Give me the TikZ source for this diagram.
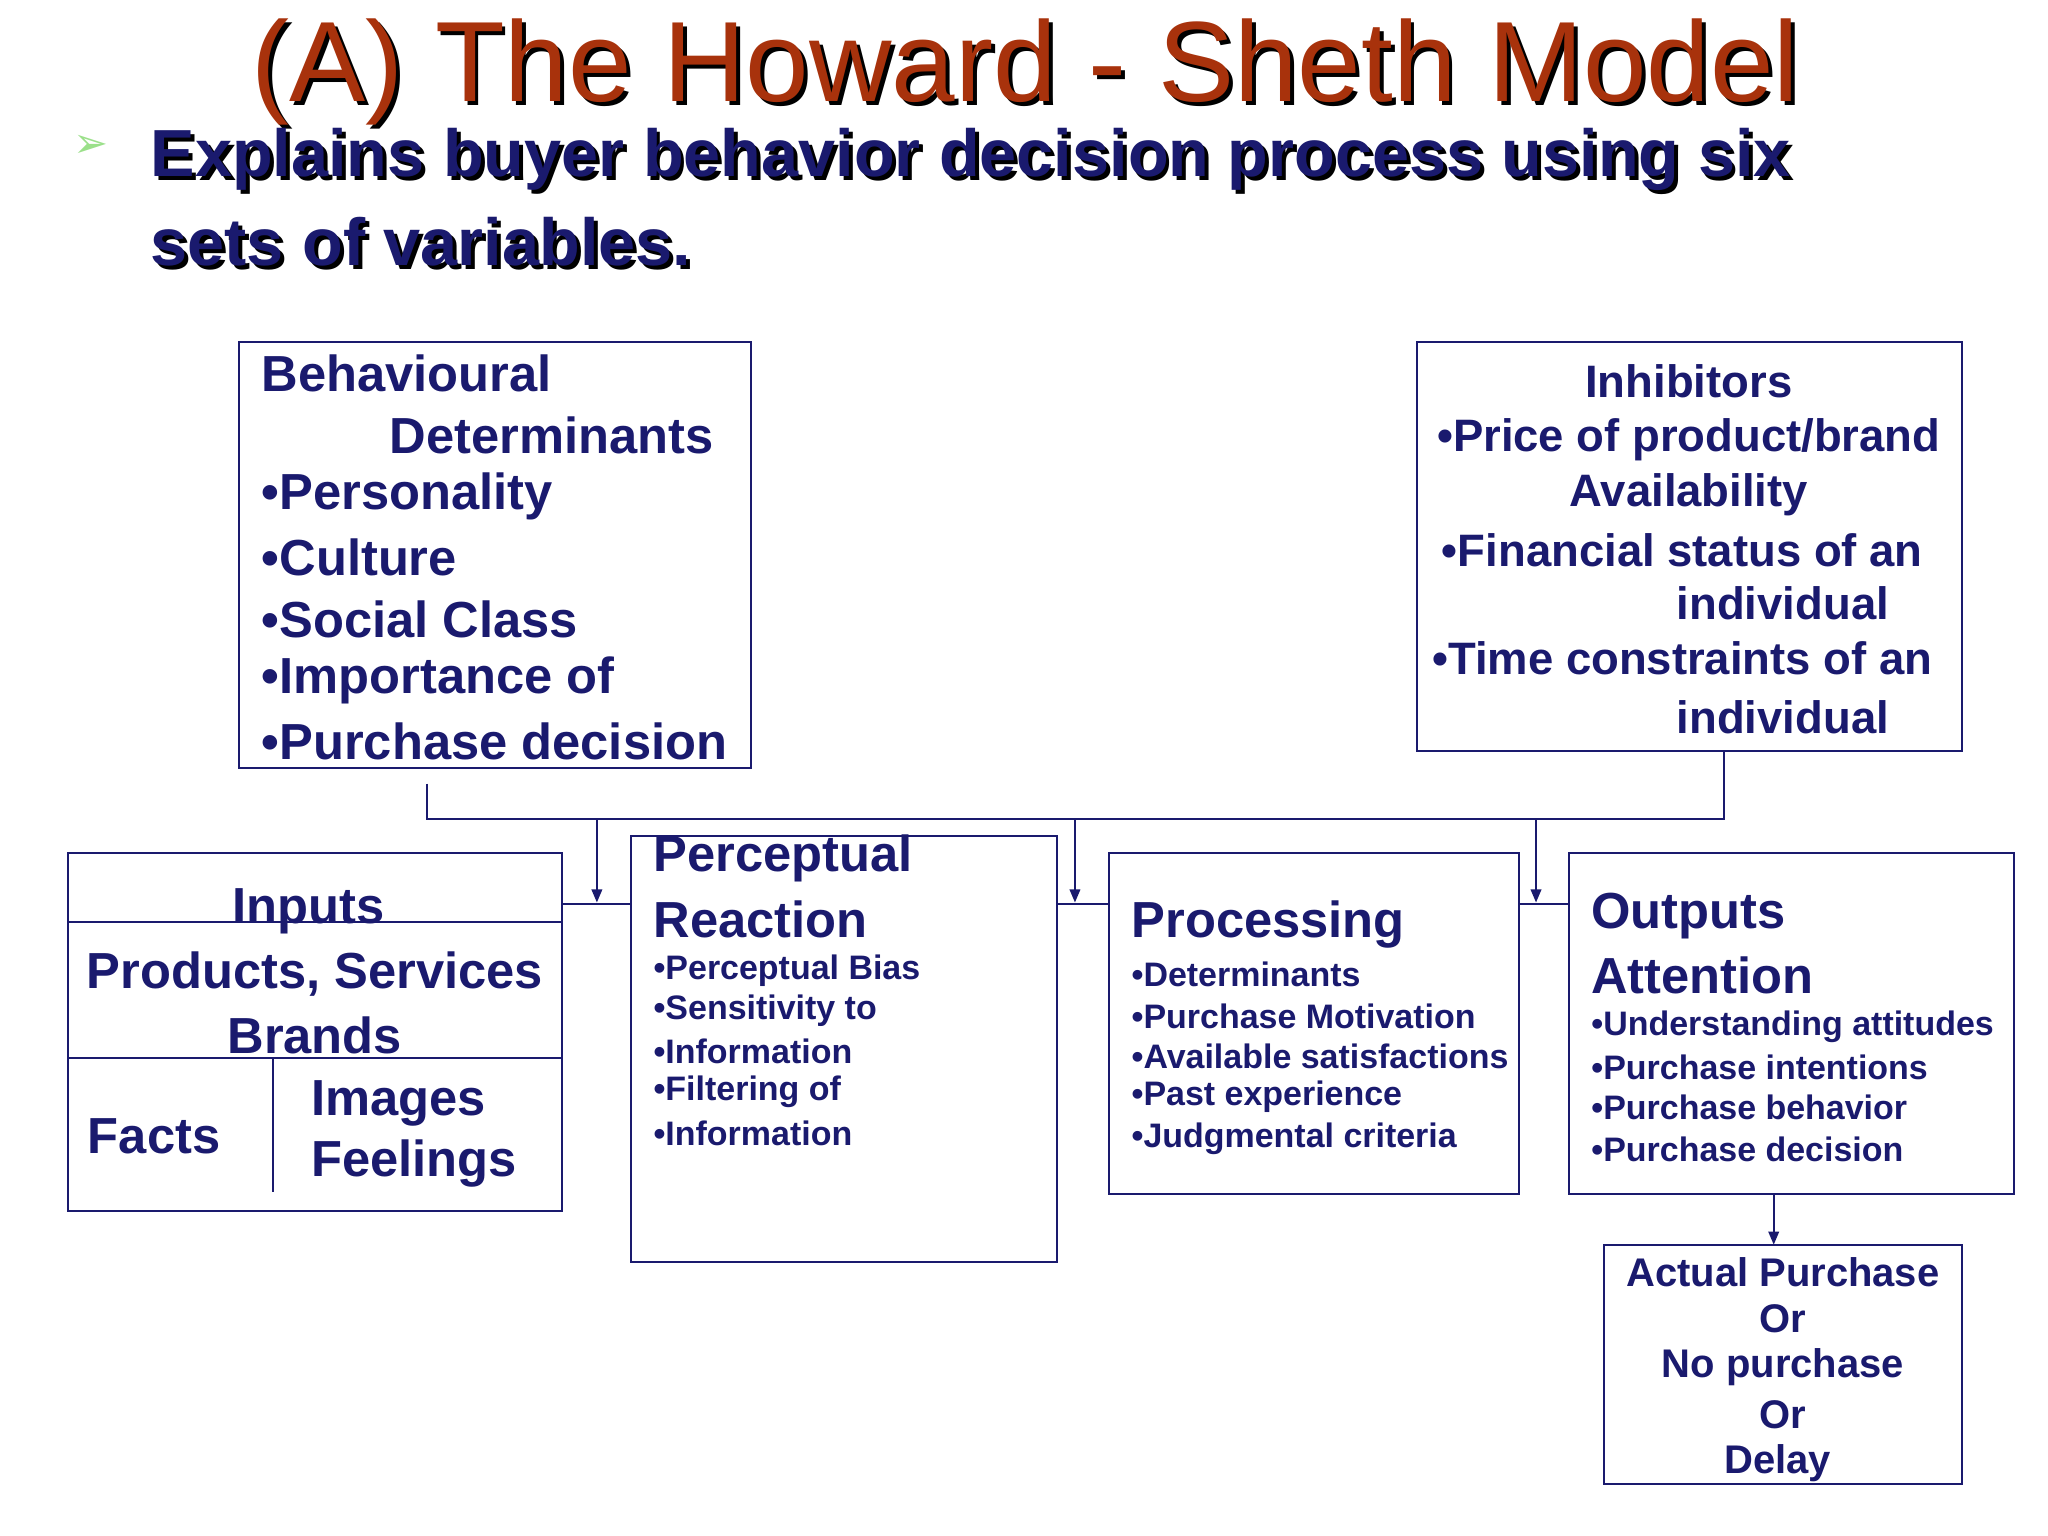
\documentclass[tikz,border=0pt]{standalone}
\usepackage{fontspec}
\setmainfont{Liberation Sans}
\newfontfamily\djv{DejaVu Sans}
\usetikzlibrary{arrows.meta}
\definecolor{navy}{HTML}{1A1A6E}
\definecolor{tred}{HTML}{A8320C}
\definecolor{bgreen}{HTML}{9BE08A}
\begin{document}
\begin{tikzpicture}[x=0.5pt,y=-0.5pt,
  box/.style={draw=navy,line width=0.8pt},
  ln/.style={draw=navy,line width=0.8pt},
  arr/.style={ln,-{Triangle[length=5pt,width=4pt]}},
  big/.style={text=navy,font=\fontsize{19.4}{22}\selectfont\bfseries,inner sep=0pt},
  inh/.style={text=navy,font=\fontsize{17.4}{20}\selectfont\bfseries,inner sep=0pt},
  small/.style={text=navy,font=\fontsize{13}{15}\selectfont\bfseries,inner sep=0pt},
  act/.style={text=navy,font=\fontsize{15.3}{17}\selectfont\bfseries,inner sep=0pt}]
\useasboundingbox (0,0) rectangle (1568,1176);
\fill[white] (0,0) rectangle (1568,1176);
% title
\node[inner sep=0pt,text=black,font=\fontsize{43.7}{46}\selectfont] (tsh) at (788,58) {(A) The Howard - Sheth Model};
\node[inner sep=0pt,text=tred,font=\fontsize{43.7}{46}\selectfont] (title) at (785,55) {(A) The Howard - Sheth Model};
\node[inner sep=0pt,text=bgreen,font=\fontsize{16}{16}\selectfont\djv] (bul) at (70,112) {➢};
\node[anchor=west,inner sep=0pt,text=black,font=\fontsize{25.5}{28}\selectfont\bfseries] (s1) at (118,125) {Explains buyer behavior decision process using six};
\node[anchor=west,inner sep=0pt,text=navy,font=\fontsize{25.5}{28}\selectfont\bfseries] (e1) at (115,122) {Explains buyer behavior decision process using six};
\node[anchor=west,inner sep=0pt,text=black,font=\fontsize{25.5}{28}\selectfont\bfseries] (s2) at (118,188) {sets of variables.};
\node[anchor=west,inner sep=0pt,text=navy,font=\fontsize{25.5}{28}\selectfont\bfseries] (e2) at (115,185) {sets of variables.};
% behavioural
\draw[box] (183,262) rectangle (575,588);
\node[big,anchor=west] (b1) at (200,286) {Behavioural};
\node[big,anchor=west] (b2) at (298,333) {Determinants};
\node[big,anchor=west] (b3) at (200,380) {•Personality};
\node[big,anchor=west] (b4) at (200,427) {•Culture};
\node[big,anchor=west] (b5) at (200,474) {•Social Class};
\node[big,anchor=west] (b6) at (200,521) {•Importance of};
\node[big,anchor=west] (b7) at (200,568) {•Purchase decision};
% inhibitors
\draw[box] (1085,262) rectangle (1502,575);
\node[inh] (i1) at (1293,292) {Inhibitors};
\node[inh] (i2) at (1293,337) {•Price of product/brand};
\node[inh] (i3) at (1293,379) {Availability};
\node[inh] (i4) at (1288,421) {•Financial status of an};
\node[inh] (i5) at (1365,462) {individual};
\node[inh] (i6) at (1288,504) {•Time constraints of an};
\node[inh] (i7) at (1365,549) {individual};
% connectors
\coordinate (c0) at (327,600); \coordinate (c1) at (327,627);
\coordinate (c2) at (1320,627); \coordinate (c3) at (1320,575);
\draw[ln] (c0) -- (c1) -- (c2) -- (c3);
\coordinate (a1) at (457,627); \coordinate (a1e) at (457,691);
\coordinate (a2) at (823,627); \coordinate (a2e) at (823,691);
\coordinate (a3) at (1176,627); \coordinate (a3e) at (1176,691);
\draw[arr] (a1) -- (a1e); \draw[arr] (a2) -- (a2e); \draw[arr] (a3) -- (a3e);
% inputs
\draw[box] (52,653) rectangle (430,927);
\draw[ln] (52,706) -- (430,706); \draw[ln] (52,810) -- (430,810);
\draw[ln] (209,810) -- (209,913);
\node[big] (n1) at (236,698) {Inputs};
\node[big] (n2) at (241,746) {Products, Services};
\node[big] (n3) at (241,793) {Brands};
\node[big] (n4) at (118,870) {Facts};
\node[big,anchor=west] (n5) at (238,845) {Images};
\node[big,anchor=west] (n6) at (238,891) {Feelings};
% links
\draw[ln] (430,692) -- (483,692);
\draw[ln] (809,692) -- (849,692);
\draw[ln] (1163,692) -- (1201,692);
% perceptual
\draw[box] (483,640) rectangle (809,966);
\node[big,anchor=west] (p1) at (500,657) {Perceptual};
\node[big,anchor=west] (p2) at (500,704) {Reaction};
\node[small,anchor=west] (p3) at (500,743) {•Perceptual Bias};
\node[small,anchor=west] (p4) at (500,774) {•Sensitivity to};
\node[small,anchor=west] (p5) at (500,805) {•Information};
\node[small,anchor=west] (p6) at (500,836) {•Filtering of};
\node[small,anchor=west] (p7) at (500,868) {•Information};
% processing
\draw[box] (849,653) rectangle (1163,914);
\node[big,anchor=west] (q1) at (866,708) {Processing};
\node[small,anchor=west] (q2) at (866,746) {•Determinants};
\node[small,anchor=west] (q3) at (866,778) {•Purchase Motivation};
\node[small,anchor=west] (q4) at (866,809) {•Available satisfactions};
\node[small,anchor=west] (q5) at (866,840) {•Past experience};
\node[small,anchor=west] (q6) at (866,872) {•Judgmental criteria};
% outputs
\draw[box] (1201,653) rectangle (1542,914);
\node[big,anchor=west] (o1) at (1218,701) {Outputs};
\node[big,anchor=west] (o2) at (1218,747) {Attention};
\node[small,anchor=west] (o3) at (1218,786) {•Understanding attitudes};
\node[small,anchor=west] (o4) at (1218,817) {•Purchase intentions};
\node[small,anchor=west] (o5) at (1218,848) {•Purchase behavior};
\node[small,anchor=west] (o6) at (1218,880) {•Purchase decision};
% actual
\coordinate (d0) at (1358,914); \coordinate (d1) at (1358,953);
\draw[arr] (d0) -- (d1);
\draw[box] (1228,953) rectangle (1502,1136);
\node[act] (x1) at (1365,974) {Actual Purchase};
\node[act] (x2) at (1365,1010) {Or};
\node[act] (x3) at (1365,1047) {No purchase};
\node[act] (x4) at (1365,1083) {Or};
\node[act] (x5) at (1361,1120) {Delay};
\end{tikzpicture}
\end{document}
